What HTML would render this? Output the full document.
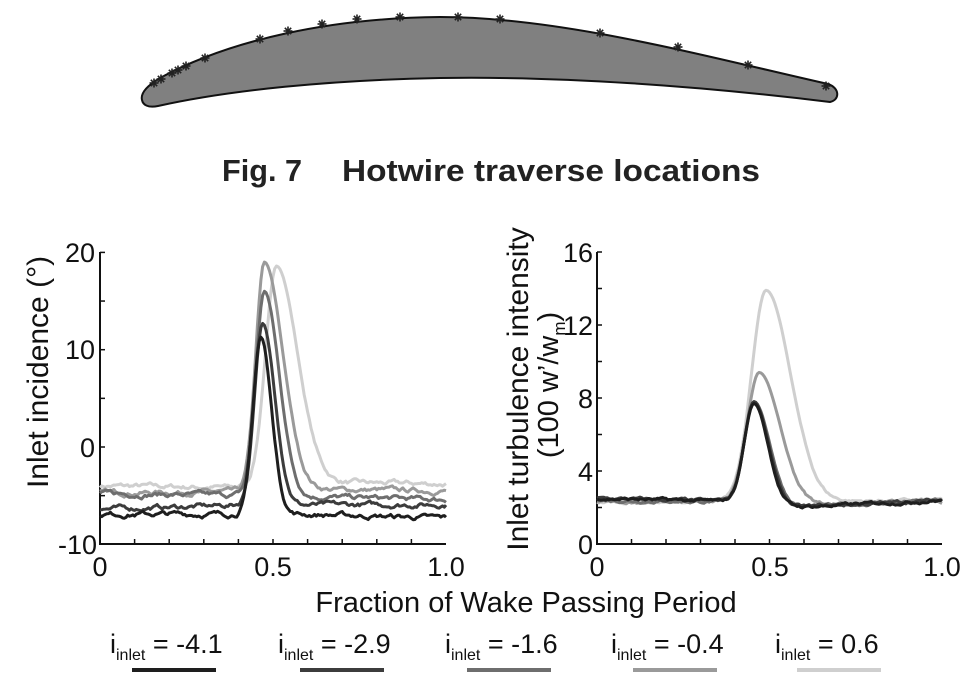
<!DOCTYPE html>
<html><head><meta charset="utf-8"><style>
body{margin:0;background:#fff;}
svg{display:block;font-family:"Liberation Sans",Arial,sans-serif;}
</style></head><body>
<svg id="s" width="974" height="685" viewBox="0 0 974 685" xmlns="http://www.w3.org/2000/svg">
<path d="M142,100 C140,92 150,84 160,78 C230,40 330,18 440,17 C560,17 700,55 828,84 C840,88 840,100 830,102 C700,86 560,76 440,78 C330,80 230,90 158,106 C148,108 143,105 142,100 Z" fill="#808080" stroke="#111" stroke-width="2"/>
<g id="stars" stroke="#222" stroke-width="1.6"></g>
<text x="222" y="181" font-size="31" font-weight="bold" fill="#222" textLength="80" lengthAdjust="spacingAndGlyphs">Fig. 7</text>
<text x="342" y="181" font-size="31" font-weight="bold" fill="#222" textLength="418" lengthAdjust="spacingAndGlyphs">Hotwire traverse locations</text>

<g stroke="#111" stroke-width="2" fill="none">
<path d="M100,252 V544 H446"/>
<path d="M597,252 V544 H942"/>
</g>
<g id="ticks" stroke="#111" stroke-width="1.5"></g>
<g font-size="27" fill="#111">
<text x="95" y="262" text-anchor="end">20</text>
<text x="95" y="359" text-anchor="end">10</text>
<text x="95" y="457" text-anchor="end">0</text>
<text x="97" y="554" text-anchor="end">-10</text>
<text x="100" y="576" text-anchor="middle">0</text>
<text x="273" y="576" text-anchor="middle">0.5</text>
<text x="446" y="576" text-anchor="middle">1.0</text>
<text x="593" y="262" text-anchor="end">16</text>
<text x="593" y="335" text-anchor="end">12</text>
<text x="593" y="408" text-anchor="end">8</text>
<text x="593" y="481" text-anchor="end">4</text>
<text x="593" y="554" text-anchor="end">0</text>
<text x="597" y="576" text-anchor="middle">0</text>
<text x="770" y="576" text-anchor="middle">0.5</text>
<text x="942" y="576" text-anchor="middle">1.0</text>
<text transform="translate(48,372) rotate(-90)" text-anchor="middle" font-size="30">Inlet incidence (°)</text>
<text transform="translate(528,389) rotate(-90)" text-anchor="middle" font-size="30">Inlet turbulence intensity</text>
<text transform="translate(558,385) rotate(-90)" text-anchor="middle" font-size="29">(100 w’/w<tspan font-size="17" dy="7">m</tspan><tspan dy="-7">)</tspan></text>
<text x="526" y="612" text-anchor="middle" font-size="29">Fraction of Wake Passing Period</text>
</g>
<g id="curves" fill="none" stroke-width="3" stroke-linejoin="round"></g>
<g id="legend" font-size="27" fill="#111"></g>
</svg>
<script>
var NS="http://www.w3.org/2000/svg";
function el(p,t,a,txt){var e=document.createElementNS(NS,t);for(var k in a)e.setAttribute(k,a[k]);if(txt)e.textContent=txt;document.getElementById(p).appendChild(e);return e;}
[[154,83],[161,79],[172,73],[178,70],[186,66],[205,58],[260,39],[288,31],[322,24],[357,19],[400,17],[458,17],[500,19],[600,33],[678,47],[748,65],[826,86]].forEach(function(p){
 for(var a=0;a<4;a++){var an=a*Math.PI/4,dx=4.5*Math.cos(an),dy=4.5*Math.sin(an);
 el("stars","line",{x1:p[0]-dx,y1:p[1]-dy,x2:p[0]+dx,y2:p[1]+dy});}});
for(var i=1;i<10;i++){var x=100+34.6*i;el("ticks","line",{x1:x,y1:544,x2:x,y2:539});x=597+34.5*i;el("ticks","line",{x1:x,y1:544,x2:x,y2:539});}
for(var v=-5;v<=20;v+=5){var y=447-v*9.73;el("ticks","line",{x1:100,y1:y,x2:105,y2:y});}
for(var v=2;v<=16;v+=2){var y=544-v*18.25;el("ticks","line",{x1:597,y1:y,x2:602,y2:y});}
var seed=7;function rnd(){seed=(seed*16807)%2147483647;return seed/2147483647-0.5;}
function curve(b0,b1,a0,a1,pk,px,sl,sr,col,X0,W,Y0,SY,nz){
 var d="",n=0;
 for(var i=0;i<=200;i++){var t=i/200;n=n*0.8+rnd()*nz;
  var base=t<px?b0+(b1-b0)*t/px:a0+(a1-a0)*(t-px)/(1-px);
  var s=t<px?sl:sr;var g=Math.exp(-Math.pow((t-px)/s,2));
  var v=base+(pk-base)*g+n*(1-g);
  d+=(i?"L":"M")+(X0+W*t).toFixed(1)+","+(Y0-v*SY).toFixed(1);}
 el("curves","path",{d:d,stroke:col});}
var L=[[-4.0,-4.2,-3.6,-3.8,18.6,0.51,0.045,0.085,"#cfcfcf"],
 [-4.7,-4.6,-4.3,-4.5,19,0.475,0.035,0.075,"#9a9a9a"],
 [-4.8,-5.0,-5.0,-5.4,16,0.475,0.035,0.06,"#6e6e6e"],
 [-6.4,-5.9,-6.0,-5.9,12.7,0.47,0.033,0.05,"#3c3c3c"],
 [-6.9,-6.9,-6.8,-7.3,11.3,0.465,0.032,0.043,"#1e1e1e"]];
L.forEach(function(c){curve(c[0],c[1],c[2],c[3],c[4],c[5],c[6],c[7],c[8],100,346,447,9.73,0.35);});
var R=[[2.3,2.3,2.3,2.4,13.9,0.49,0.06,0.1,"#cfcfcf"],
 [2.3,2.3,2.1,2.3,9.4,0.47,0.05,0.085,"#9a9a9a"],
 [2.4,2.3,1.9,2.4,7.8,0.455,0.04,0.065,"#6e6e6e"],
 [2.5,2.3,1.9,2.4,7.8,0.455,0.04,0.06,"#3c3c3c"],
 [2.5,2.3,1.9,2.4,7.7,0.455,0.04,0.058,"#1e1e1e"]];
R.forEach(function(c){curve(c[0],c[1],c[2],c[3],c[4],c[5],c[6],c[7],c[8],597,345,544,18.25,0.12);});
var lg=[["-4.1",132,"#1e1e1e"],["-2.9",300,"#3c3c3c"],["-1.6",467,"#6e6e6e"],["-0.4",633,"#9a9a9a"],["0.6",797,"#cfcfcf"]];
lg.forEach(function(l){
 var t=el("legend","text",{x:l[1]-22,y:653});
 t.innerHTML='i<tspan font-size="16" dy="7">inlet</tspan><tspan dy="-7"> = '+l[0]+'</tspan>';
 el("legend","line",{x1:l[1],y1:670,x2:l[1]+84,y2:670,stroke:l[2],"stroke-width":4});});
</script>
</body></html>
